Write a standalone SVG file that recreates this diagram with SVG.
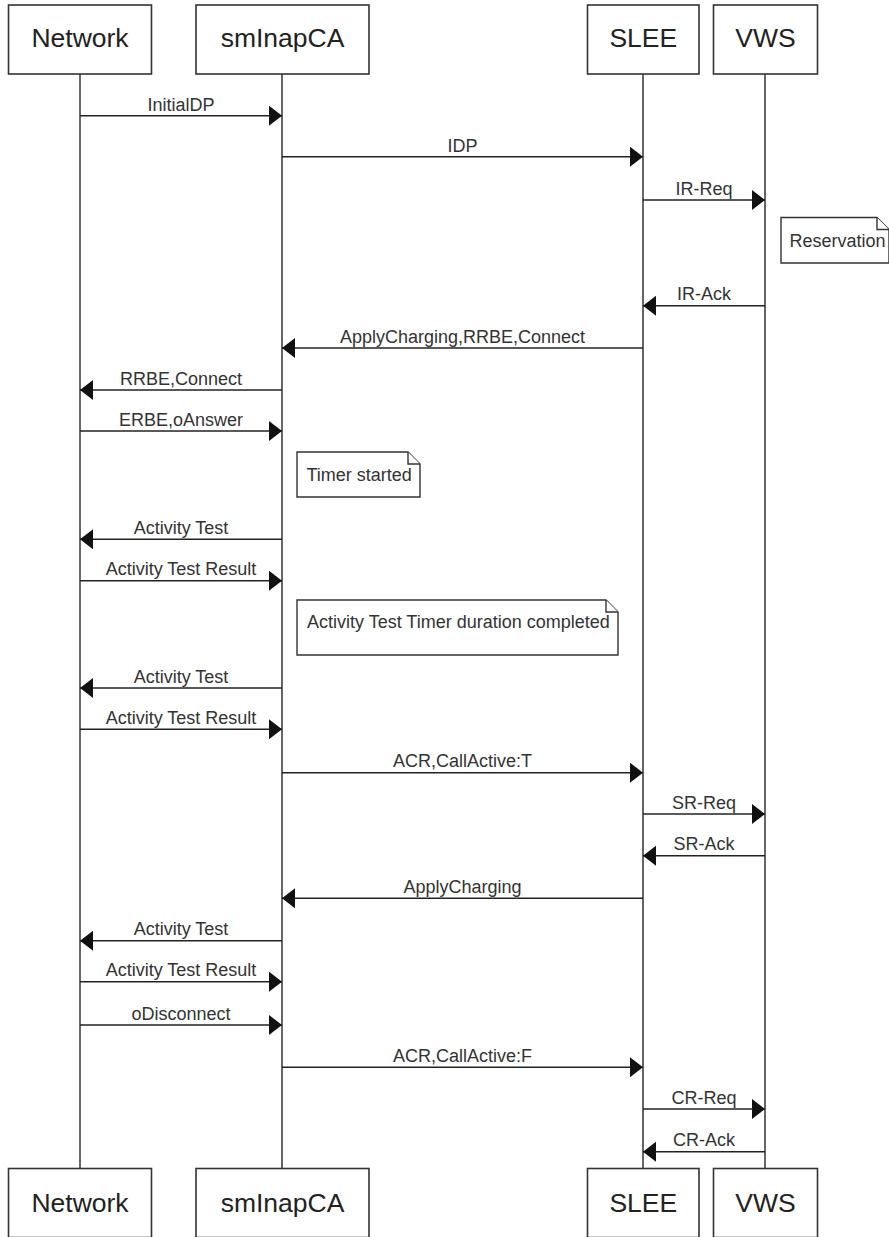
<svg xmlns="http://www.w3.org/2000/svg" width="889" height="1237" viewBox="0 0 889 1237">
<style>
.box{fill:#fff;stroke:#333;stroke-width:1.6}
.hdr{font-family:"Liberation Sans",Arial,sans-serif;font-size:26.5px;fill:#222;text-anchor:middle}
.life{stroke:#333;stroke-width:1.5;fill:none}
.msg{stroke:#222;stroke-width:1.6;fill:none;marker-end:url(#ah)}
.lbl{font-family:"Liberation Sans",Arial,sans-serif;font-size:18px;fill:#333;text-anchor:middle}
.note{fill:#fff;stroke:#333;stroke-width:1.4}
.ntxt{font-family:"Liberation Sans",Arial,sans-serif;font-size:18px;fill:#333}
</style>
<defs>
<marker id="ah" markerUnits="userSpaceOnUse" markerWidth="14" markerHeight="22" refX="13" refY="10" orient="auto">
<path d="M0,0 L13,10 L0,20 z" fill="#111"/>
</marker>
</defs>
<rect width="889" height="1237" fill="#fff"/>
<g id="lifelines">
<line class="life" x1="80" y1="74" x2="80" y2="1168.5"/>
<line class="life" x1="282" y1="74" x2="282" y2="1168.5"/>
<line class="life" x1="643" y1="74" x2="643" y2="1168.5"/>
<line class="life" x1="765" y1="74" x2="765" y2="1168.5"/>
</g>
<g id="node-network-top"><rect class="box" x="8.5" y="5" width="143" height="69"/><text class="hdr" x="80" y="47">Network</text></g>
<g id="node-sminapca-top"><rect class="box" x="196" y="5" width="173" height="69"/><text class="hdr" x="282.5" y="47">smInapCA</text></g>
<g id="node-slee-top"><rect class="box" x="587.5" y="5" width="111.5" height="69"/><text class="hdr" x="643.3" y="47">SLEE</text></g>
<g id="node-vws-top"><rect class="box" x="713.5" y="5" width="104" height="69"/><text class="hdr" x="765.5" y="47">VWS</text></g>
<g id="node-network-bottom"><rect class="box" x="8.5" y="1168.5" width="143" height="69"/><text class="hdr" x="80" y="1211.5">Network</text></g>
<g id="node-sminapca-bottom"><rect class="box" x="196" y="1168.5" width="173" height="69"/><text class="hdr" x="282.5" y="1211.5">smInapCA</text></g>
<g id="node-slee-bottom"><rect class="box" x="587.5" y="1168.5" width="111.5" height="69"/><text class="hdr" x="643.3" y="1211.5">SLEE</text></g>
<g id="node-vws-bottom"><rect class="box" x="713.5" y="1168.5" width="104" height="69"/><text class="hdr" x="765.5" y="1211.5">VWS</text></g>
<g id="note-reservation"><path class="note" d="M781,217.5 H877 L889,229.5 V263 H781 Z"/><path class="note" d="M877,217.5 V229.5 H889" fill="none"/><text class="ntxt" x="789.5" y="247">Reservation</text></g>
<g id="note-timer"><path class="note" d="M297,452 H408 L420,464 V497 H297 Z"/><path class="note" d="M408,452 V464 H420" fill="none"/><text class="ntxt" x="306.5" y="480.5">Timer started</text></g>
<g id="note-activity"><path class="note" d="M297,600 H606 L618,612 V655 H297 Z"/><path class="note" d="M606,600 V612 H618" fill="none"/><text class="ntxt" x="307" y="627.5">Activity Test Timer duration completed</text></g>
<g id="connectors">
<line class="msg" x1="80" y1="115.7" x2="282" y2="115.7"/>
<line class="msg" x1="282" y1="156.7" x2="643" y2="156.7"/>
<line class="msg" x1="643" y1="200" x2="765" y2="200"/>
<line class="msg" x1="765" y1="305.7" x2="643" y2="305.7"/>
<line class="msg" x1="643" y1="348" x2="282" y2="348"/>
<line class="msg" x1="282" y1="390" x2="80" y2="390"/>
<line class="msg" x1="80" y1="431" x2="282" y2="431"/>
<line class="msg" x1="282" y1="539.3" x2="80" y2="539.3"/>
<line class="msg" x1="80" y1="580.7" x2="282" y2="580.7"/>
<line class="msg" x1="282" y1="688" x2="80" y2="688"/>
<line class="msg" x1="80" y1="729.3" x2="282" y2="729.3"/>
<line class="msg" x1="282" y1="772.7" x2="643" y2="772.7"/>
<line class="msg" x1="643" y1="814" x2="765" y2="814"/>
<line class="msg" x1="765" y1="855.7" x2="643" y2="855.7"/>
<line class="msg" x1="643" y1="898.3" x2="282" y2="898.3"/>
<line class="msg" x1="282" y1="940.7" x2="80" y2="940.7"/>
<line class="msg" x1="80" y1="981.7" x2="282" y2="981.7"/>
<line class="msg" x1="80" y1="1025" x2="282" y2="1025"/>
<line class="msg" x1="282" y1="1067.3" x2="643" y2="1067.3"/>
<line class="msg" x1="643" y1="1109" x2="765" y2="1109"/>
<line class="msg" x1="765" y1="1151.7" x2="643" y2="1151.7"/>
</g>
<g id="labels">
<text class="lbl" x="181" y="110.5">InitialDP</text>
<text class="lbl" x="462.5" y="151.5">IDP</text>
<text class="lbl" x="704" y="194.5">IR-Req</text>
<text class="lbl" x="704" y="300">IR-Ack</text>
<text class="lbl" x="462.5" y="343">ApplyCharging,RRBE,Connect</text>
<text class="lbl" x="181" y="384.5">RRBE,Connect</text>
<text class="lbl" x="181" y="425.5">ERBE,oAnswer</text>
<text class="lbl" x="181" y="534">Activity Test</text>
<text class="lbl" x="181" y="575">Activity Test Result</text>
<text class="lbl" x="181" y="682.5">Activity Test</text>
<text class="lbl" x="181" y="723.5">Activity Test Result</text>
<text class="lbl" x="462.5" y="766.5">ACR,CallActive:T</text>
<text class="lbl" x="704" y="808.5">SR-Req</text>
<text class="lbl" x="704" y="850">SR-Ack</text>
<text class="lbl" x="462.5" y="892.5">ApplyCharging</text>
<text class="lbl" x="181" y="935">Activity Test</text>
<text class="lbl" x="181" y="976">Activity Test Result</text>
<text class="lbl" x="181" y="1019.5">oDisconnect</text>
<text class="lbl" x="462.5" y="1061.5">ACR,CallActive:F</text>
<text class="lbl" x="704" y="1103.5">CR-Req</text>
<text class="lbl" x="704" y="1146">CR-Ack</text>
</g>
</svg>
